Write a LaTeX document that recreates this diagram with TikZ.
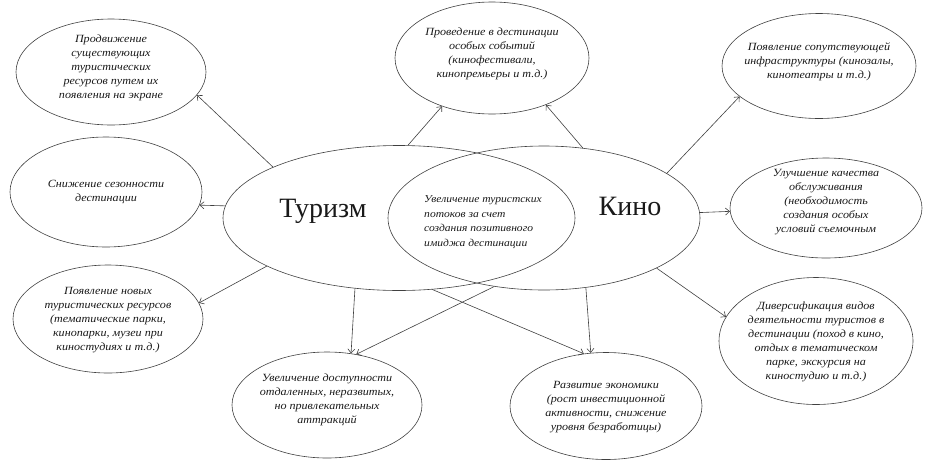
\documentclass[tikz,border=0pt]{standalone}
\usepackage{fontspec}
\setmainfont{Liberation Serif}
\newfontfamily\wideit[FakeStretch=1.1]{Liberation Serif Italic}
\usetikzlibrary{shapes.geometric,arrows.meta}
\begin{document}
\begin{tikzpicture}[x=1pt,y=-1pt,
  ell/.style={draw=black!75,line width=0.6pt,ellipse,inner sep=0pt},
  txt/.style={font=\wideit\fontsize{11}{14}\selectfont,align=center,inner sep=0pt,text=black!90},
  big/.style={font=\fontsize{28}{30}\selectfont,inner sep=0pt,text=black!90},
  arr/.style={draw=black!75,line width=0.6pt,-{Straight Barb[length=4pt,width=7pt]}}]
\useasboundingbox (0,0) rectangle (925,469);
% central ellipses
\node[ell,minimum width=352pt,minimum height=145pt] (tour) at (399,218) {};
\node[ell,minimum width=312pt,minimum height=144pt] (kino) at (544,218) {};
\node[big] (tourt) at (323,211) {Туризм};
\node[big] (kinot) at (630,206) {Кино};
\node[txt,align=left,font=\wideit\fontsize{10.5}{14.5}\selectfont] (lens) at (483,222) {Увеличение туристских\\потоков за счет\\создания позитивного\\имиджа дестинации};
% outer ellipses
\node[ell,minimum width=190pt,minimum height=106pt] (e1) at (111,72) {};
\node[txt] (t1) at (111,68) {Продвижение\\существующих\\туристических\\ресурсов путем их\\появления на экране};
\node[ell,minimum width=194pt,minimum height=112pt] (e2) at (492,58) {};
\node[txt] (t2) at (492,54) {Проведение в дестинации\\особых событий\\(кинофестивали,\\кинопремьеры и т.д.)};
\node[ell,minimum width=194pt,minimum height=105pt] (e3) at (819,66) {};
\node[txt] (t3) at (819,62) {Появление сопутствующей\\инфраструктуры (кинозалы,\\кинотеатры и т.д.)};
\node[ell,minimum width=192pt,minimum height=110pt] (e4) at (106,192) {};
\node[txt] (t4) at (106,192) {Снижение сезонности\\дестинации};
\node[ell,minimum width=192pt,minimum height=100pt] (e6) at (826,208) {};
\node[txt] (t6) at (826,202) {Улучшение качества\\обслуживания\\(необходимость\\создания особых\\условий съемочным};
\node[ell,minimum width=190pt,minimum height=108pt] (e7) at (108,319) {};
\node[txt] (t7) at (108,320) {Появление новых\\туристических ресурсов\\(тематические парки,\\кинопарки, музеи при\\киностудиях и т.д.)};
\node[ell,minimum width=194pt,minimum height=127pt] (e8) at (816,341) {};
\node[txt] (t8) at (816,342) {Диверсификация видов\\деятельности туристов в\\дестинации (поход в кино,\\отдых в тематическом\\парке, экскурсия на\\киностудию и т.д.)};
\node[ell,minimum width=190pt,minimum height=106pt] (e9) at (327,405) {};
\node[txt] (t9) at (327,400) {Увеличение доступности\\отдаленных, неразвитых,\\но привлекательных\\аттракций};
\node[ell,minimum width=192pt,minimum height=107pt] (e10) at (606,406) {};
\node[txt] (t10) at (606,407) {Развитие экономики\\(рост инвестиционной\\активности, снижение\\уровня безработицы)};
% arrows
\draw[arr] (tour.158.9) -- (e1.-15);
\draw[arr] (tour.83.7) -- (e2.224.4);
\draw[arr] (kino.61.2) -- (e2.319.7);
\draw[arr] (kino.20.5) -- (e3.201.2);
\draw[arr] (tour.176.7) -- (e4.-8);
\draw[arr] (kino.2.2) -- (e6.182.3);
\draw[arr] (tour.200.4) -- (e7.10);
\draw[arr] (kino.336.7) -- (e8.165);
\draw[arr] (tour.238.6) -- (e9.65.6);
\draw[arr] (kino.234.2) -- (e9.60.5);
\draw[arr] (tour.295.3) -- (e10.113.5);
\draw[arr] (kino.301.6) -- (e10.106.5);
\end{tikzpicture}
\end{document}
